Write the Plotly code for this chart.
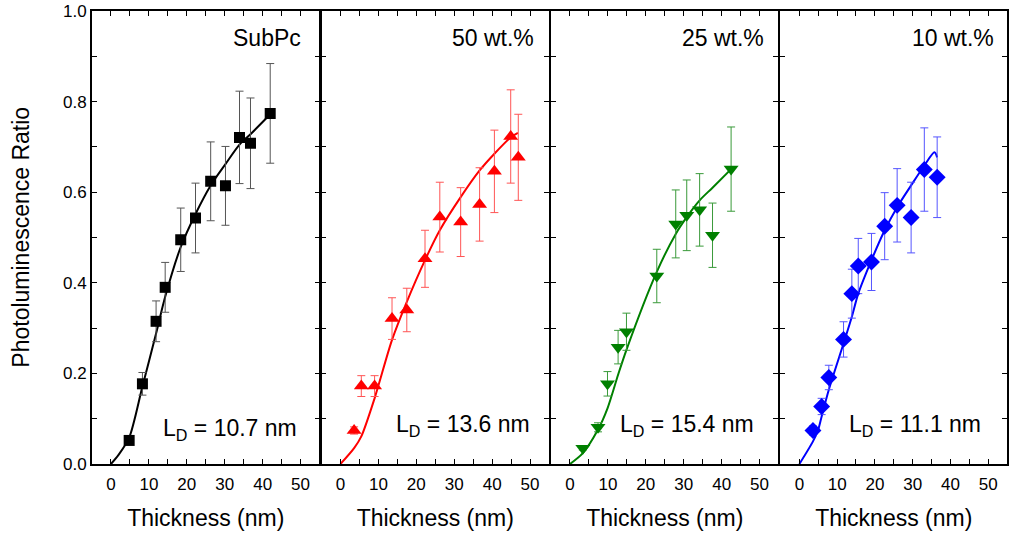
import plotly.graph_objects as go

# ---- measured points: thickness (nm), PL ratio, error ----
subpc_x = [4.8, 8.3, 11.9, 14.3, 18.4, 22.3, 26.3, 30.2, 33.9, 36.8, 42.0]
subpc_y = [0.052, 0.177, 0.315, 0.390, 0.495, 0.543, 0.624, 0.614, 0.721, 0.708, 0.774]
subpc_e = [0.0, 0.025, 0.045, 0.055, 0.070, 0.077, 0.087, 0.087, 0.102, 0.100, 0.110]

w50_x = [3.6, 5.5, 9.0, 13.6, 17.5, 22.3, 26.2, 31.7, 36.7, 40.6, 44.9, 46.9]
w50_y = [0.074, 0.172, 0.172, 0.321, 0.340, 0.453, 0.545, 0.534, 0.573, 0.646, 0.723, 0.677]
w50_e = [0.008, 0.023, 0.023, 0.046, 0.048, 0.063, 0.077, 0.076, 0.081, 0.091, 0.103, 0.095]

w25_x = [3.4, 7.4, 9.9, 12.7, 14.9, 22.9, 27.9, 30.8, 34.2, 37.6, 42.5]
w25_y = [0.035, 0.081, 0.177, 0.258, 0.292, 0.415, 0.530, 0.549, 0.561, 0.505, 0.651]
w25_e = [0.004, 0.010, 0.027, 0.037, 0.041, 0.059, 0.075, 0.078, 0.080, 0.071, 0.093]

w10_x = [3.6, 5.9, 7.8, 11.7, 13.9, 15.6, 19.1, 22.6, 25.9, 29.6, 33.1, 36.5]
w10_y = [0.074, 0.127, 0.191, 0.275, 0.376, 0.437, 0.446, 0.525, 0.571, 0.544, 0.650, 0.633]
w10_e = [0.010, 0.018, 0.027, 0.039, 0.054, 0.061, 0.063, 0.074, 0.081, 0.078, 0.092, 0.089]

# ---- diffusion-model fit curves ----
subpc_fit_x = [0, 2.0, 4.8, 8.3, 11.9, 14.3, 18.4, 22.3, 26.3, 30.2, 33.9, 36.8, 42.0]
subpc_fit_y = [0, 0.020, 0.058, 0.171, 0.288, 0.369, 0.479, 0.552, 0.615, 0.662, 0.705, 0.728, 0.772]

w50_fit_x = [0, 3.6, 5.5, 9.0, 13.6, 17.5, 22.3, 26.2, 31.7, 36.7, 40.6, 44.9, 46.8]
w50_fit_y = [0, 0.035, 0.061, 0.145, 0.274, 0.358, 0.450, 0.516, 0.589, 0.648, 0.685, 0.721, 0.731]

w25_fit_x = [0, 3.4, 7.4, 9.9, 12.7, 14.9, 22.9, 27.9, 30.8, 34.2, 37.6, 42.5]
w25_fit_y = [0, 0.024, 0.076, 0.123, 0.197, 0.252, 0.424, 0.508, 0.545, 0.582, 0.610, 0.651]

w10_fit_x = [0, 3.6, 5.0, 5.9, 7.8, 11.7, 13.9, 15.6, 19.1, 22.6, 25.9, 29.6, 33.1, 35.8, 36.5]
w10_fit_y = [0, 0.050, 0.076, 0.105, 0.164, 0.266, 0.325, 0.376, 0.450, 0.516, 0.567, 0.615, 0.659, 0.688, 0.677]

panel_titles = ["SubPc", "50 wt.%", "25 wt.%", "10 wt.%"]
ld_values = ["10.7", "13.6", "15.4", "11.1"]

panels = [
    dict(x=subpc_x, y=subpc_y, e=subpc_e, fx=subpc_fit_x, fy=subpc_fit_y,
         color="#000000", ecolor="#555555", symbol="square", size=11),
    dict(x=w50_x, y=w50_y, e=w50_e, fx=w50_fit_x, fy=w50_fit_y,
         color="#ff0000", ecolor="#ff5555", symbol="triangle-up", size=13),
    dict(x=w25_x, y=w25_y, e=w25_e, fx=w25_fit_x, fy=w25_fit_y,
         color="#008000", ecolor="#3a9a3a", symbol="triangle-down", size=13),
    dict(x=w10_x, y=w10_y, e=w10_e, fx=w10_fit_x, fy=w10_fit_y,
         color="#0000ff", ecolor="#5555ff", symbol="diamond", size=13),
]

title_x = [50.7, 51.7, 51.6, 52.0]
ld_x = [49.5, 50.6, 49.0, 48.6]
ld_y = [0.076, 0.086, 0.086, 0.086]

FONT = "Liberation Sans, Arial, sans-serif"
W, H = 1011, 539
ML, MR, MT, MB = 92, 2, 10, 75
plot_w = W - ML - MR
LINE_W = 2
# panel widths in pixels; a gap equal to the line width lets the right
# border of one panel and the left border of the next fall on the same pixels
panel_px = [228, 228, 228, 227]

fig = go.Figure()
start = 0
for i, p in enumerate(panels):
    xa = "x" if i == 0 else f"x{i+1}"
    ya = "y" if i == 0 else f"y{i+1}"
    fig.add_trace(go.Scatter(
        x=p["fx"], y=p["fy"], mode="lines", xaxis=xa, yaxis=ya,
        line=dict(color=p["color"], width=2, shape="spline", smoothing=0.8),
        showlegend=False, hoverinfo="skip"))
    fig.add_trace(go.Scatter(
        x=p["x"], y=p["y"], mode="markers", xaxis=xa, yaxis=ya,
        marker=dict(symbol=p["symbol"], size=p["size"], color=p["color"],
                    line=dict(width=0)),
        error_y=dict(type="data", array=p["e"], visible=True,
                     color=p["ecolor"], thickness=1, width=4),
        showlegend=False))

    d0 = start / plot_w
    d1 = min(1.0, (start + panel_px[i]) / plot_w)
    start += panel_px[i] + LINE_W
    xkey = "xaxis" if i == 0 else f"xaxis{i+1}"
    ykey = "yaxis" if i == 0 else f"yaxis{i+1}"
    fig.layout[xkey] = dict(
        domain=[d0, d1], range=[-5, 55], anchor=ya,
        tickmode="linear", tick0=0, dtick=10,
        ticks="inside", ticklen=5, tickwidth=1, tickcolor="black",
        minor=dict(tick0=0, dtick=5, ticks="inside", ticklen=5, tickwidth=1,
                   tickcolor="black", showgrid=False),
        showline=True, linecolor="black", linewidth=LINE_W, mirror="allticks",
        showgrid=False, zeroline=False, ticklabelstandoff=4,
        tickfont=dict(family=FONT, size=17, color="black"),
        title=dict(text="Thickness (nm)", font=dict(family=FONT, size=23, color="black"),
                   standoff=16),
    )
    fig.layout[ykey] = dict(
        domain=[0, 1], range=[0, 1], anchor=xa,
        tickmode="linear", tick0=0, dtick=0.2, tickformat=".1f",
        showticklabels=(i == 0),
        ticks="inside", ticklen=5, tickwidth=1, tickcolor="black",
        minor=dict(tick0=0, dtick=0.1, ticks="inside", ticklen=5, tickwidth=1,
                   tickcolor="black", showgrid=False),
        showline=True, linecolor="black", linewidth=LINE_W, mirror="allticks",
        showgrid=False, zeroline=False,
        tickfont=dict(family=FONT, size=17, color="black"),
    )
    fig.add_annotation(
        x=title_x[i], y=0.94, xref=xa, yref=ya, text=panel_titles[i],
        showarrow=False, xanchor="right", yanchor="middle",
        font=dict(family=FONT, size=23, color="black"))
    fig.add_annotation(
        x=ld_x[i], y=ld_y[i], xref=xa, yref=ya,
        text=f"L<sub>D</sub> = {ld_values[i]} nm",
        showarrow=False, xanchor="right", yanchor="middle",
        font=dict(family=FONT, size=23, color="black"))

# shared y-axis title
fig.add_annotation(
    x=(20 - ML) / plot_w, y=0.5, xref="paper", yref="paper",
    text="Photoluminescence Ratio", textangle=-90, showarrow=False,
    xanchor="center", yanchor="middle",
    font=dict(family=FONT, size=23, color="black"))

fig.update_layout(
    width=W, height=H,
    margin=dict(l=ML, r=MR, t=MT, b=MB),
    paper_bgcolor="white", plot_bgcolor="white",
)

fig.write_html("out.html")
